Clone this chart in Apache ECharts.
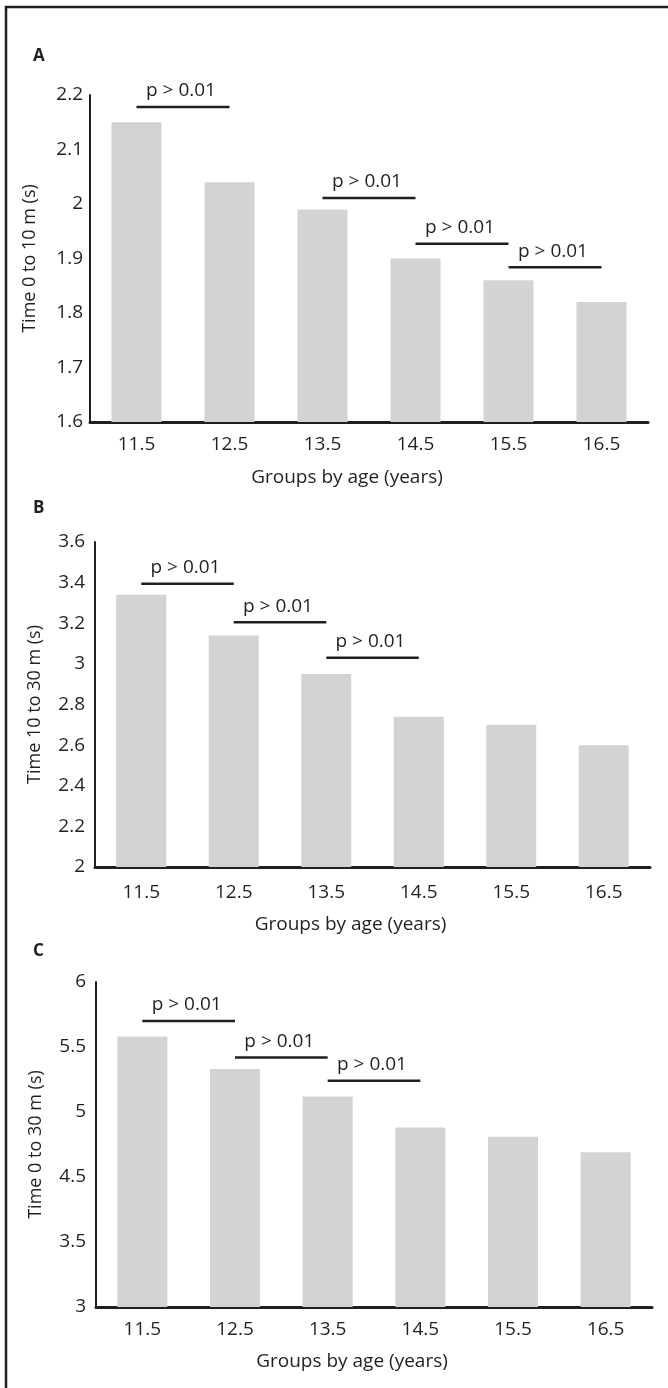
<!DOCTYPE html>
<html>
<head>
<meta charset="utf-8">
<title>Sprint times by age group</title>
<script src="https://cdn.jsdelivr.net/npm/echarts@6/dist/echarts.min.js"></script>
<style>
html,body{margin:0;padding:0;background:#fff;}
#content{width:668px;height:1388px;}
</style>
</head>
<body>
<div id="content"></div>
<script>
var ageGroups = ['11.5', '12.5', '13.5', '14.5', '15.5', '16.5'];

// A: time 0 to 10 m (s)
var time0to10 = [2.15, 2.04, 1.99, 1.90, 1.86, 1.82];
// B: time 10 to 30 m (s)
var time10to30 = [3.34, 3.14, 2.95, 2.74, 2.70, 2.60];
// C: time 0 to 30 m (s)
var time0to30 = [5.58, 5.33, 5.12, 4.88, 4.81, 4.69];

// significance bars: [from group, to group, height]
var bracketsA = [[0, 1, 2.178], [2, 3, 2.011], [3, 4, 1.927], [4, 5, 1.884]];
var bracketsB = [[0, 1, 3.395], [1, 2, 3.205], [2, 3, 3.03]];
var bracketsC = [[0, 1, 5.70], [1, 2, 5.42], [2, 3, 5.24]];
var pLabel = 'p > 0.01';

// panel C axis is broken, its labels sit evenly spaced
var ticksC = [3, 3.5, 4.5, 5, 5.5, 6];

var ink = '#231f20';
var barColor = '#d1d3d4';
var font = '"Open Sans", sans-serif';

// value -> position on the broken C axis (0..5)
function toAxisC(v) {
    for (var i = 0; i < ticksC.length - 1; i++) {
        if (v <= ticksC[i + 1] || i == ticksC.length - 2) {
            return i + (v - ticksC[i]) / (ticksC[i + 1] - ticksC[i]);
        }
    }
}

var myChart = echarts.init(document.getElementById('content'), null, {renderer: 'canvas'});

function renderBracket(params, api) {
    var p1 = api.coord([api.value(0), api.value(2)]);
    var p2 = api.coord([api.value(1), api.value(2)]);
    return {
        type: 'group',
        children: [
            {type: 'line', shape: {x1: p1[0], y1: p1[1], x2: p2[0], y2: p2[1]},
             style: {stroke: ink, lineWidth: 2.5}},
            {type: 'text', style: {text: pLabel, x: (p1[0] + p2[0]) / 2 - 2, y: p1[1] - 16,
             align: 'center', verticalAlign: 'middle', font: '19px ' + font, fill: ink}}
        ]
    };
}

var grids = [
    {left: 90, right: 20, top: 95, height: 327},
    {left: 95, right: 18, top: 542, height: 325},
    {left: 96, right: 16, top: 982, height: 325}
];
var xNameGap = [46, 48, 45];
var xLabelMargin = [13, 16, 13];
var yNames = ['Time 0 to 10 m (s)', 'Time 10 to 30 m (s)', 'Time 0 to 30 m (s)'];

var xAxes = grids.map(function (g, i) {
    return {
        type: 'category', gridIndex: i, data: ageGroups,
        name: 'Groups by age (years)', nameLocation: 'middle', nameGap: xNameGap[i],
        nameTextStyle: {fontFamily: font, fontSize: 19, color: ink, padding: [0, 44, 0, 0]},
        axisLine: {show: true, lineStyle: {color: ink, width: 3}},
        axisTick: {show: false},
        axisLabel: {fontFamily: font, fontSize: 19, color: ink, margin: xLabelMargin[i]}
    };
});

var yAxes = [
    {min: 1.6, max: 2.2, interval: 0.1},
    {min: 2, max: 3.6, interval: 0.2},
    {min: 0, max: 5, interval: 1, formatter: function (v) { return String(ticksC[v]); }}
].map(function (a, i) {
    return {
        type: 'value', gridIndex: i, min: a.min, max: a.max, interval: a.interval,
        name: yNames[i], nameLocation: 'middle', nameGap: 51,
        nameTextStyle: {fontFamily: font, fontSize: 18, color: ink},
        axisLine: {show: true, lineStyle: {color: ink, width: 2}},
        axisTick: {show: false},
        splitLine: {show: false},
        axisLabel: {fontFamily: font, fontSize: 19, color: ink, margin: i == 0 ? 7 : 10,
                    formatter: a.formatter}
    };
});

var barData = [time0to10, time10to30, time0to30.map(toAxisC)];
var bracketData = [bracketsA, bracketsB, bracketsC.map(function (b) { return [b[0], b[1], toAxisC(b[2])]; })];

var series = [];
for (var i = 0; i < 3; i++) {
    series.push({
        type: 'bar', xAxisIndex: i, yAxisIndex: i, data: barData[i],
        barWidth: 50, itemStyle: {color: barColor}, silent: true
    });
    series.push({
        type: 'custom', xAxisIndex: i, yAxisIndex: i, data: bracketData[i],
        encode: {x: [0, 1], y: 2}, renderItem: renderBracket, silent: true, z: 5
    });
}

option = {
    animation: false,
    backgroundColor: '#fff',
    title: ['A', 'B', 'C'].map(function (t, i) {
        return {text: t, left: 33, top: [48, 500, 943][i], padding: 0,
                textStyle: {fontFamily: font, fontSize: 17, fontWeight: 'bold', color: ink}};
    }),
    grid: grids,
    xAxis: xAxes,
    yAxis: yAxes,
    series: series,
    graphic: [
        {type: 'polyline', shape: {points: [[668, 7], [6, 7], [6, 1388]]},
         style: {stroke: ink, lineWidth: 2.5, fill: null}, silent: true}
    ]
};

myChart.setOption(option);
</script>
</body>
</html>
